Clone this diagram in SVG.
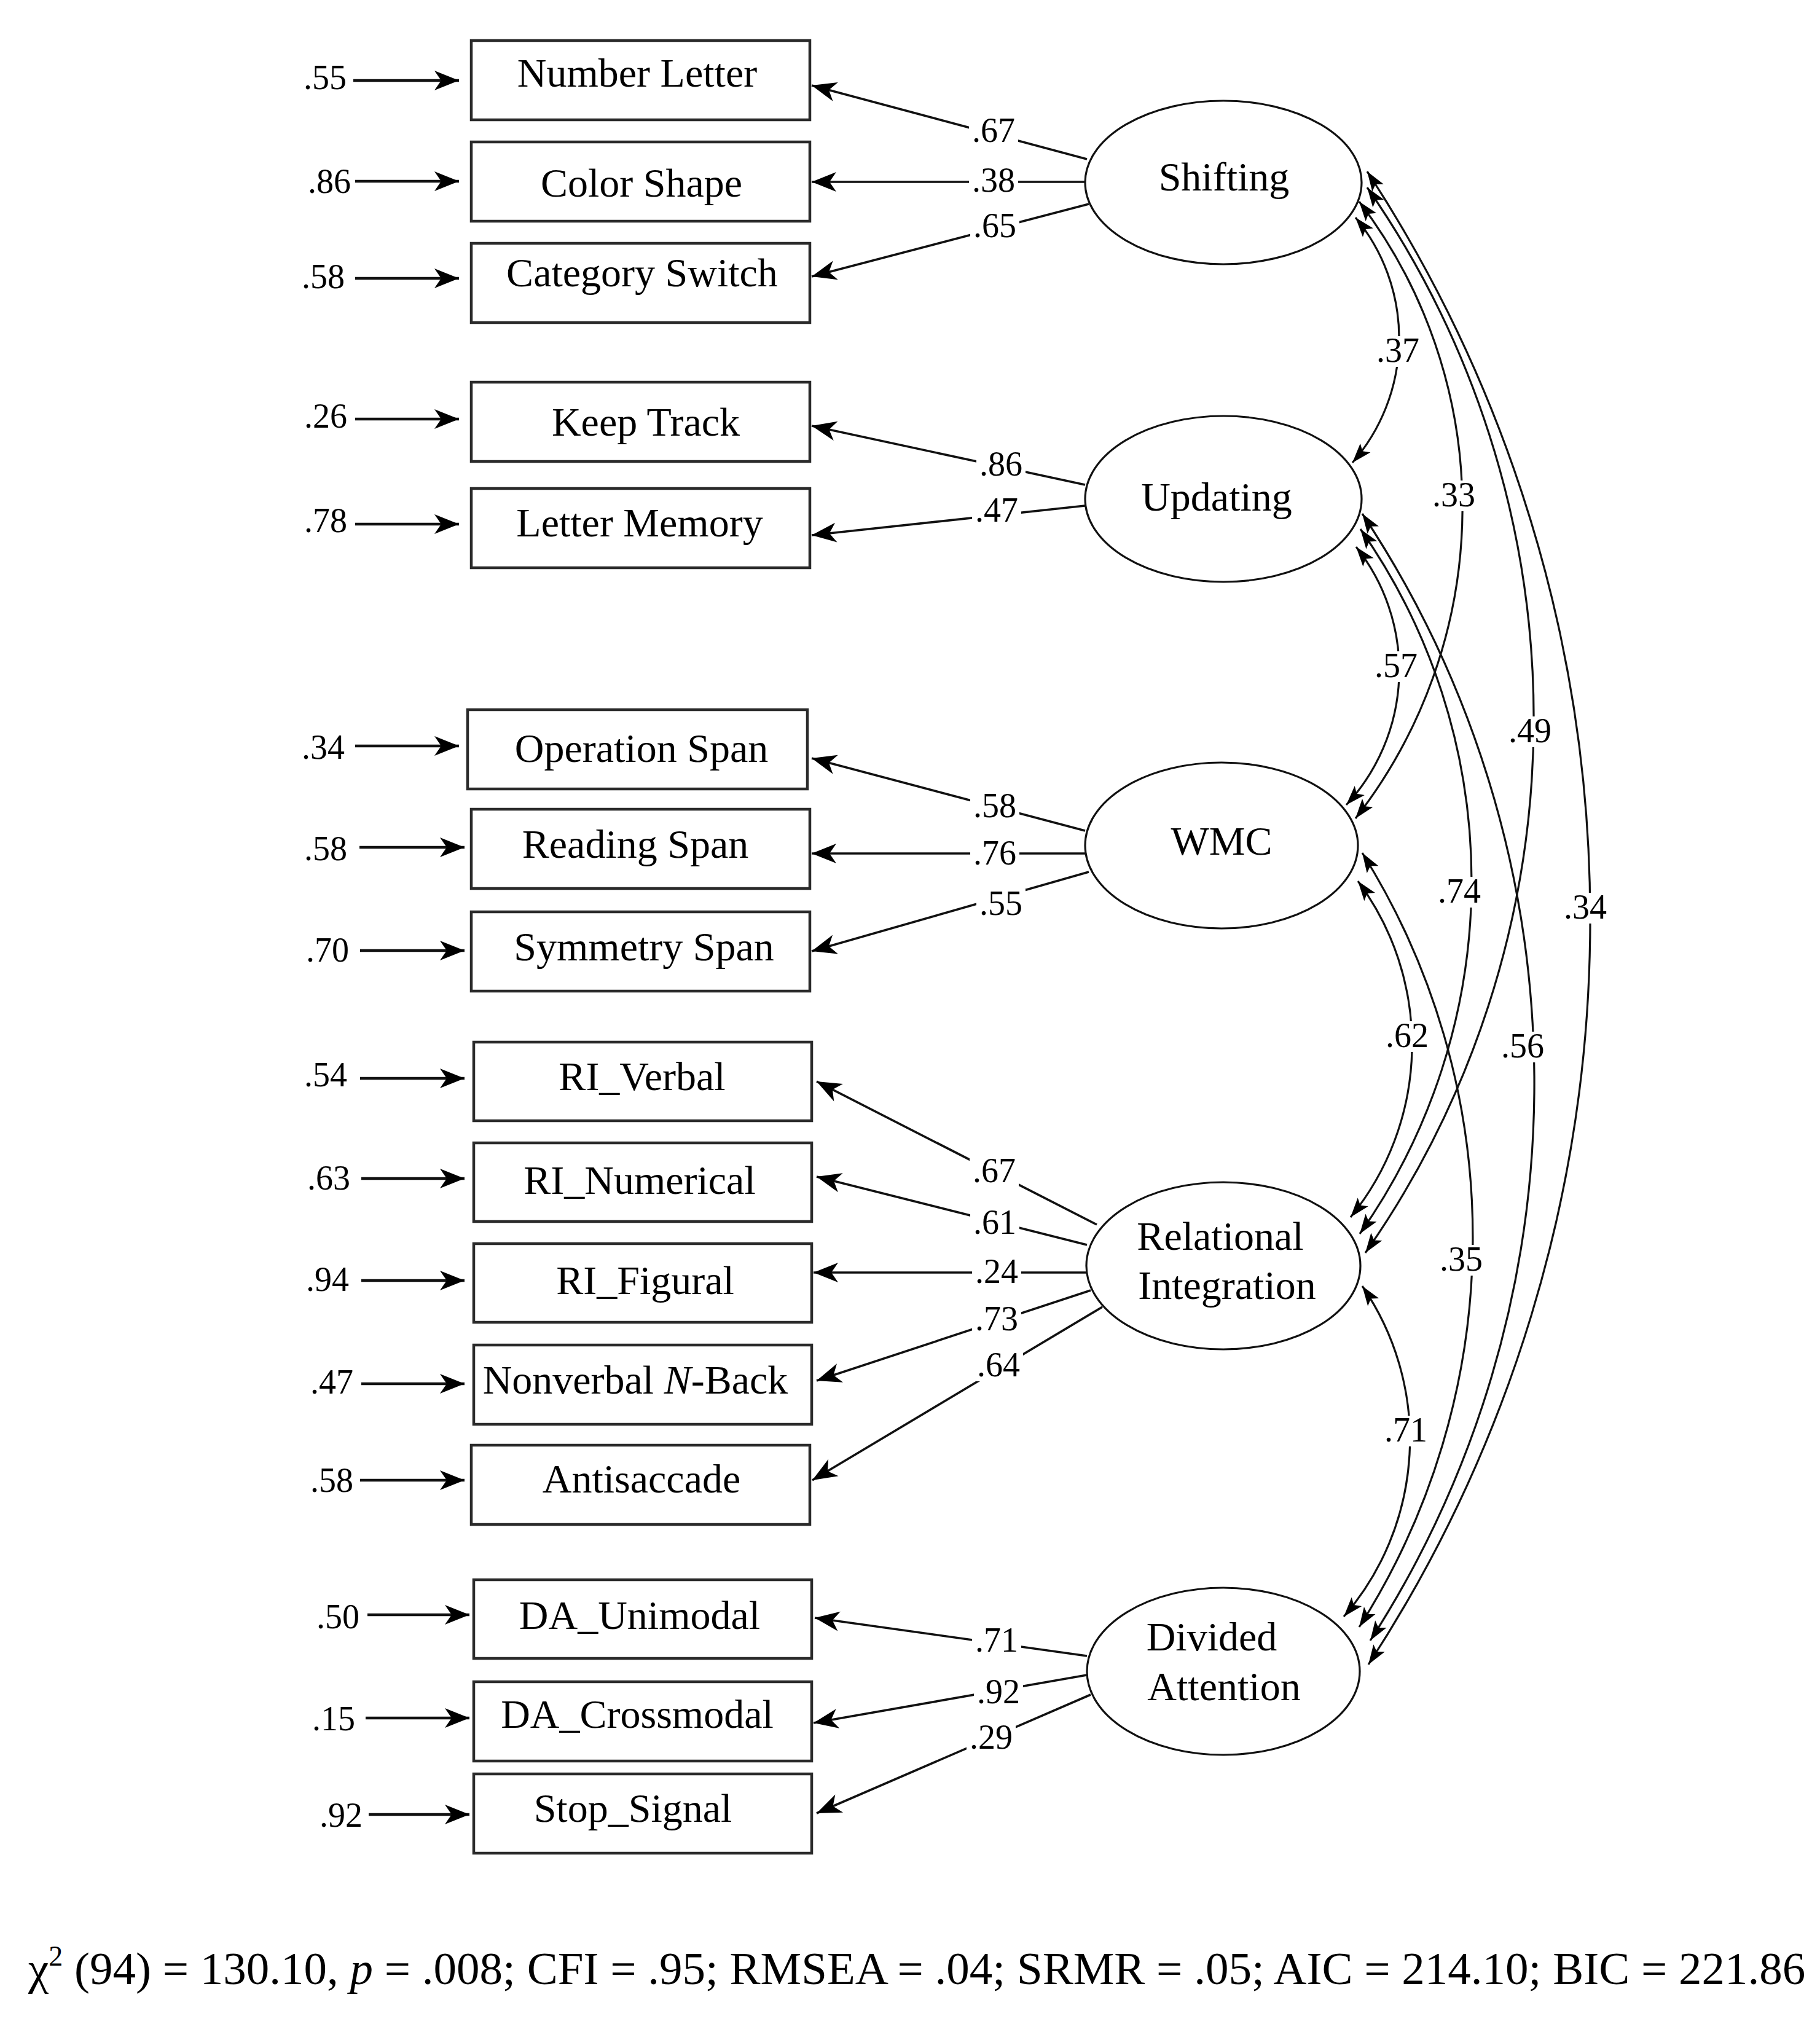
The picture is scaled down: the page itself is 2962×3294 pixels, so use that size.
<svg xmlns="http://www.w3.org/2000/svg" width="2962" height="3294" viewBox="0 0 2962 3294">
<style>
.bg{fill:#fff}
.box{fill:#fff;stroke:#2a2a2a;stroke-width:4.5}
.lat{fill:#fff;stroke:#111;stroke-width:3.2}
.t{font-family:"Liberation Serif","Times New Roman",serif;font-size:66px;text-anchor:middle;fill:#000}
.lbl{font-family:"Liberation Serif","Times New Roman",serif;font-size:56px;text-anchor:middle;fill:#000}
.lb{fill:#fff;stroke:none}
.err{stroke:#111;stroke-width:4.5;fill:none;marker-end:url(#ah)}
.ld{stroke:#111;stroke-width:3.6;fill:none;marker-end:url(#ah)}
.cor{stroke:#111;stroke-width:3.2;fill:none;marker-start:url(#sa);marker-end:url(#sa)}
.fit{font-family:"Liberation Serif","Times New Roman",serif;font-size:75px;fill:#000}
</style>
<defs>
<marker id="ah" markerUnits="userSpaceOnUse" markerWidth="44" markerHeight="36" viewBox="-42 -18 44 36" refX="0" refY="0" orient="auto-start-reverse">
<path d="M0,0 L-40,-16 L-29,0 L-40,16 Z" fill="#000"/>
</marker>
<marker id="sa" markerUnits="userSpaceOnUse" markerWidth="36" markerHeight="26" viewBox="-34 -13 36 26" refX="0" refY="0" orient="auto-start-reverse">
<path d="M0,0 L-32,-11 L-25,0 L-32,11 Z" fill="#000"/>
</marker>
</defs>
<rect class="bg" x="0" y="0" width="2962" height="3294"/>

<g id="connectors">
<path class="err" d="M575,131 H747"/>
<path class="err" d="M578,295 H747"/>
<path class="err" d="M578,453 H747"/>
<path class="err" d="M578,682 H747"/>
<path class="err" d="M578,853 H747"/>
<path class="err" d="M578,1214 H747"/>
<path class="err" d="M585,1379 H756"/>
<path class="err" d="M586,1547 H756"/>
<path class="err" d="M586,1755 H756"/>
<path class="err" d="M588,1918 H756"/>
<path class="err" d="M588,2084 H756"/>
<path class="err" d="M588,2252 H756"/>
<path class="err" d="M586,2409 H756"/>
<path class="err" d="M598,2628 H764"/>
<path class="err" d="M595,2796 H764"/>
<path class="err" d="M600,2953 H764"/>
<path class="ld" d="M1769,259 L1321,139"/>
<path class="ld" d="M1766,296 L1321,296"/>
<path class="ld" d="M1772,332 L1321,450"/>
<path class="ld" d="M1766,789 L1321,693"/>
<path class="ld" d="M1766,823 L1321,871"/>
<path class="ld" d="M1766,1352 L1321,1234"/>
<path class="ld" d="M1766,1389 L1321,1389"/>
<path class="ld" d="M1772,1419 L1321,1548"/>
<path class="ld" d="M1785,1993 L1329,1760"/>
<path class="ld" d="M1769,2026 L1329,1915"/>
<path class="ld" d="M1769,2071 L1324,2071"/>
<path class="ld" d="M1775,2100 L1329,2247"/>
<path class="ld" d="M1794,2127 L1322,2409"/>
<path class="ld" d="M1769,2695 L1326,2633"/>
<path class="ld" d="M1769,2726 L1324,2804"/>
<path class="ld" d="M1775,2758 L1329,2951"/>
<path class="cor" d="M2206,354 A307.5,307.5 0 0 1 2201,753"/>
<path class="cor" d="M2212,328 A822,822 0 0 1 2206,1332"/>
<path class="cor" d="M2225,305 A1515,1515 0 0 1 2222,2039"/>
<path class="cor" d="M2225,279 A2220,2220 0 0 1 2227,2709"/>
<path class="cor" d="M2207,890 A322,322 0 0 1 2191,1310"/>
<path class="cor" d="M2214,861 A997,997 0 0 1 2213,2008"/>
<path class="cor" d="M2217,836 A1674,1674 0 0 1 2230,2670"/>
<path class="cor" d="M2210,1434 A445,445 0 0 1 2198,1981"/>
<path class="cor" d="M2217,1388 A1179,1179 0 0 1 2212,2648"/>
<path class="cor" d="M2217,2093 A440,440 0 0 1 2187,2631"/>
<rect class="lb" x="1577" y="189" width="80" height="50"/>
<rect class="lb" x="1577" y="270" width="80" height="50"/>
<rect class="lb" x="1579" y="344" width="80" height="50"/>
<rect class="lb" x="1589" y="732" width="80" height="50"/>
<rect class="lb" x="1582" y="807" width="80" height="50"/>
<rect class="lb" x="1579" y="1288" width="80" height="50"/>
<rect class="lb" x="1579" y="1365" width="80" height="50"/>
<rect class="lb" x="1589" y="1447" width="80" height="50"/>
<rect class="lb" x="1578" y="1882" width="80" height="50"/>
<rect class="lb" x="1579" y="1966" width="80" height="50"/>
<rect class="lb" x="1582" y="2046" width="80" height="50"/>
<rect class="lb" x="1582" y="2123" width="80" height="50"/>
<rect class="lb" x="1585" y="2198" width="80" height="50"/>
<rect class="lb" x="1582" y="2646" width="80" height="50"/>
<rect class="lb" x="1585" y="2730" width="80" height="50"/>
<rect class="lb" x="1573" y="2804" width="80" height="50"/>
<rect class="lb" x="2235" y="547" width="80" height="50"/>
<rect class="lb" x="2326" y="782" width="80" height="50"/>
<rect class="lb" x="2450" y="1166" width="80" height="50"/>
<rect class="lb" x="2540" y="1453" width="80" height="50"/>
<rect class="lb" x="2232" y="1060" width="80" height="50"/>
<rect class="lb" x="2335" y="1427" width="80" height="50"/>
<rect class="lb" x="2438" y="1679" width="80" height="50"/>
<rect class="lb" x="2250" y="1662" width="80" height="50"/>
<rect class="lb" x="2338" y="2026" width="80" height="50"/>
<rect class="lb" x="2248" y="2304" width="80" height="50"/>
<text class="lbl" x="529" y="145">.55</text>
<text class="lbl" x="536" y="314">.86</text>
<text class="lbl" x="526" y="469">.58</text>
<text class="lbl" x="530" y="696">.26</text>
<text class="lbl" x="530" y="866">.78</text>
<text class="lbl" x="526" y="1235">.34</text>
<text class="lbl" x="530" y="1400">.58</text>
<text class="lbl" x="533" y="1565">.70</text>
<text class="lbl" x="530" y="1768">.54</text>
<text class="lbl" x="535" y="1936">.63</text>
<text class="lbl" x="533" y="2101">.94</text>
<text class="lbl" x="540" y="2268">.47</text>
<text class="lbl" x="540" y="2428">.58</text>
<text class="lbl" x="550" y="2650">.50</text>
<text class="lbl" x="543" y="2816">.15</text>
<text class="lbl" x="555" y="2973">.92</text>
<text class="lbl" x="1617" y="231">.67</text>
<text class="lbl" x="1617" y="312">.38</text>
<text class="lbl" x="1619" y="386">.65</text>
<text class="lbl" x="1629" y="774">.86</text>
<text class="lbl" x="1622" y="849">.47</text>
<text class="lbl" x="1619" y="1330">.58</text>
<text class="lbl" x="1619" y="1407">.76</text>
<text class="lbl" x="1629" y="1489">.55</text>
<text class="lbl" x="1618" y="1924">.67</text>
<text class="lbl" x="1619" y="2008">.61</text>
<text class="lbl" x="1622" y="2088">.24</text>
<text class="lbl" x="1622" y="2165">.73</text>
<text class="lbl" x="1625" y="2240">.64</text>
<text class="lbl" x="1622" y="2688">.71</text>
<text class="lbl" x="1625" y="2772">.92</text>
<text class="lbl" x="1613" y="2846">.29</text>
<text class="lbl" x="2275" y="589">.37</text>
<text class="lbl" x="2366" y="824">.33</text>
<text class="lbl" x="2490" y="1208">.49</text>
<text class="lbl" x="2580" y="1495">.34</text>
<text class="lbl" x="2272" y="1102">.57</text>
<text class="lbl" x="2375" y="1469">.74</text>
<text class="lbl" x="2478" y="1721">.56</text>
<text class="lbl" x="2290" y="1704">.62</text>
<text class="lbl" x="2378" y="2068">.35</text>
<text class="lbl" x="2288" y="2346">.71</text>
</g>

<g id="n-number-letter"><rect class="box" x="767" y="66" width="551" height="129"/><text class="t" x="1037" y="141">Number Letter</text></g>
<g id="n-color-shape"><rect class="box" x="767" y="231" width="551" height="129"/><text class="t" x="1044" y="320">Color Shape</text></g>
<g id="n-category-switch"><rect class="box" x="767" y="396" width="551" height="129"/><text class="t" x="1045" y="466">Category Switch</text></g>
<g id="n-keep-track"><rect class="box" x="767" y="622" width="551" height="129"/><text class="t" x="1051" y="709">Keep Track</text></g>
<g id="n-letter-memory"><rect class="box" x="767" y="795" width="551" height="129"/><text class="t" x="1041" y="873">Letter Memory</text></g>
<g id="n-operation-span"><rect class="box" x="761" y="1155" width="553" height="129"/><text class="t" x="1044" y="1240">Operation Span</text></g>
<g id="n-reading-span"><rect class="box" x="767" y="1317" width="551" height="129"/><text class="t" x="1034" y="1396">Reading Span</text></g>
<g id="n-symmetry-span"><rect class="box" x="767" y="1484" width="551" height="129"/><text class="t" x="1048" y="1563">Symmetry Span</text></g>
<g id="n-ri-verbal"><rect class="box" x="771" y="1696" width="550" height="128"/><text class="t" x="1045" y="1774">RI_Verbal</text></g>
<g id="n-ri-numerical"><rect class="box" x="771" y="1860" width="550" height="128"/><text class="t" x="1041" y="1943">RI_Numerical</text></g>
<g id="n-ri-figural"><rect class="box" x="771" y="2024" width="550" height="128"/><text class="t" x="1050" y="2106">RI_Figural</text></g>
<g id="n-nback"><rect class="box" x="771" y="2189" width="550" height="129"/><text class="t" x="1034" y="2268">Nonverbal <tspan font-style="italic">N</tspan>-Back</text></g>
<g id="n-antisaccade"><rect class="box" x="767" y="2352" width="551" height="129"/><text class="t" x="1044" y="2429">Antisaccade</text></g>
<g id="n-da-unimodal"><rect class="box" x="771" y="2571" width="550" height="128"/><text class="t" x="1041" y="2651">DA_Unimodal</text></g>
<g id="n-da-crossmodal"><rect class="box" x="771" y="2737" width="550" height="129"/><text class="t" x="1037" y="2812">DA_Crossmodal</text></g>
<g id="n-stop-signal"><rect class="box" x="771" y="2887" width="550" height="129"/><text class="t" x="1030" y="2965">Stop_Signal</text></g>

<g id="f-shifting"><ellipse class="lat" cx="1991" cy="297" rx="225" ry="133"/><text class="t" x="1992" y="310">Shifting</text></g>
<g id="f-updating"><ellipse class="lat" cx="1991" cy="812" rx="225" ry="135"/><text class="t" x="1980" y="831">Updating</text></g>
<g id="f-wmc"><ellipse class="lat" cx="1988" cy="1376" rx="222" ry="135"/><text class="t" x="1988" y="1391">WMC</text></g>
<g id="f-ri"><ellipse class="lat" cx="1991" cy="2060" rx="223" ry="136"/><text class="t" x="1986" y="2034">Relational</text><text class="t" x="1997" y="2114">Integration</text></g>
<g id="f-da"><ellipse class="lat" cx="1991" cy="2720" rx="222" ry="136"/><text class="t" x="1972" y="2686">Divided</text><text class="t" x="1992" y="2767">Attention</text></g>

<g id="fit-indices"><text class="fit" x="46" y="3229">χ<tspan font-size="46" dy="-30">2</tspan><tspan dy="30"> (94) = 130.10, </tspan><tspan font-style="italic">p</tspan> = .008; CFI = .95; RMSEA = .04; SRMR = .05; AIC = 214.10; BIC = 221.86</text></g>
</svg>
